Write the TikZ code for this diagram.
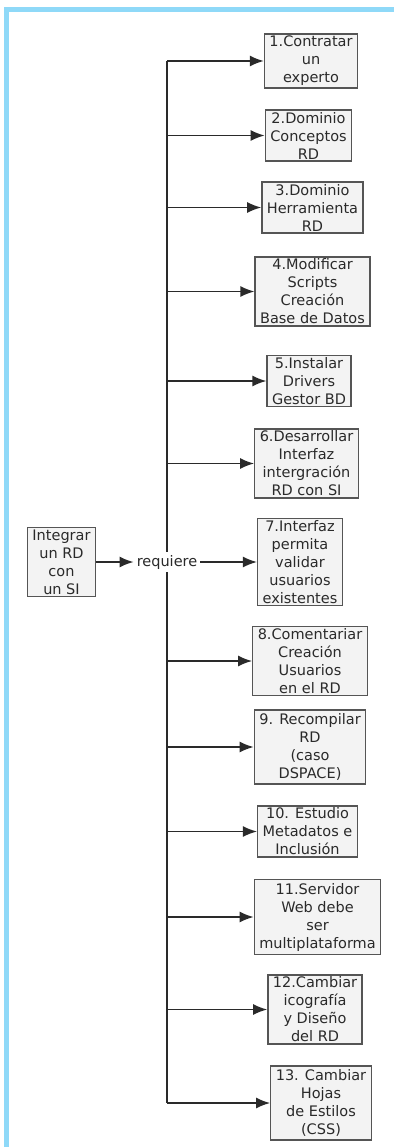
\documentclass[tikz,border=0pt]{standalone}
\usepackage{fontspec}
\setmainfont{DejaVu Sans}
\usepackage{tikz}
\usetikzlibrary{calc}
\usetikzlibrary{arrows.meta}
\usetikzlibrary{positioning}
\definecolor{marco}{HTML}{8FD9F8}
\definecolor{caja}{HTML}{F3F3F3}
\definecolor{borde}{HTML}{555555}
\definecolor{tinta}{HTML}{2A2A2A}
\tikzset{>=latex}
\tikzstyle{paso} = [rectangle, draw=borde, fill=caja, line width=1.3pt, align=center,
  inner xsep=5pt, inner ysep=2pt, text=tinta,
  font=\fontsize{14.5}{18}\selectfont]
\tikzstyle{flecha} = [-{Latex[length=14pt,width=11pt]}, line width=1.6pt, draw=tinta]
\tikzstyle{linea} = [-, line width=1.6pt, draw=tinta]

\begin{document}
\begin{tikzpicture}[x=1pt, y=-1pt]
\useasboundingbox (0,0) rectangle (394,1147);
\fill[white] (0,0) rectangle (394,1147);
\fill[marco] (4,7) rectangle (394,12);
\fill[marco] (4,7) rectangle (9,1147);

\node [paso] (integrar) at (61.5, 562) {Integrar\\un RD\\con\\un SI};
\node [text=tinta, inner sep=3pt, font=\fontsize{14.5}{18}\selectfont] (req) at (167, 562) {requiere};

\node [paso] (p1) at (311, 61) {1.Contratar\\un\\experto};
\node [paso] (p2) at (308.5, 135.5) {2.Dominio\\Conceptos\\RD};
\node [paso] (p3) at (312.5, 207.5) {3.Dominio\\Herramienta\\RD};
\node [paso] (p4) at (312.5, 291.5) {4.Modificar\\Scripts\\Creación\\Base de Datos};
\node [paso] (p5) at (309, 381) {5.Instalar\\Drivers\\Gestor BD};
\node [paso] (p6) at (306.5, 463.5) {6.Desarrollar\\Interfaz\\intergración\\RD con SI};
\node [paso] (p7) at (300, 562) {7.Interfaz\\permita\\validar\\usuarios\\existentes};
\node [paso] (p8) at (310, 661) {8.Comentariar\\Creación\\Usuarios\\en el RD};
\node [paso, inner ysep=3.5pt] (p9) at (310, 747) {9. Recompilar\\RD\\(caso\\DSPACE)};
\node [paso] (p10) at (307.5, 831.5) {10. Estudio\\Metadatos e\\Inclusión};
\node [paso, inner ysep=3.5pt] (p11) at (317.5, 917) {11.Servidor\\Web debe\\ser\\multiplataforma};
\node [paso] (p12) at (315, 1009.5) {12.Cambiar\\icografía\\y Diseño\\del RD};
\node [paso, inner ysep=3.5pt] (p13) at (321, 1103) {13. Cambiar\\Hojas\\de Estilos\\(CSS)};

% tronco
\draw [linea] (req.north) -- (req.north |- p1.west);
\draw [linea] (req.south) -- (req.south |- p13.west);

\draw [flecha] (integrar) -- (req);
\draw [flecha] (req) -- (p7);
\foreach \p in {p1,p2,p3,p4,p5,p6,p8,p9,p10,p11,p12,p13}
  \draw [flecha] (req.north |- \p.west) -- (\p.west);
\end{tikzpicture}
\end{document}
